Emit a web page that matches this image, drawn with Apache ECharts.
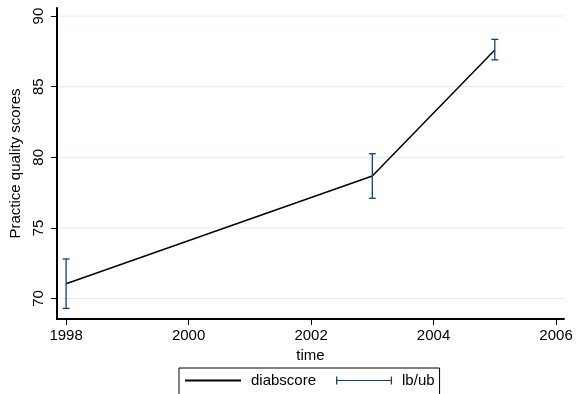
<!DOCTYPE html>
<html><head><meta charset="utf-8">
<script src="https://cdn.jsdelivr.net/npm/echarts@6/dist/echarts.min.js"></script>
<style>html,body{margin:0;padding:0;background:#fff}#c{width:584px;height:394px}</style>
</head><body><div id="c"></div>
<script>
const years = [1998, 2003, 2005];
const diabscore = [71.05, 78.67, 87.6];
const lowerBound = [69.3, 77.1, 86.9];
const upperBound = [72.8, 80.25, 88.35];
const xTicks = [1998, 2000, 2002, 2004, 2006];
const yTicks = [70, 75, 80, 85, 90];

const FONT = 'Liberation Sans';
const navy = '#1a3f73';
const chart = echarts.init(document.getElementById('c'), null, {renderer: 'canvas'});
const lineData = years.map((y, i) => [y, diabscore[i]]);
const errData = years.map((y, i) => [y, lowerBound[i], upperBound[i]]);
const fmt = v => String(v);

chart.setOption({
  animation: false,
  backgroundColor: '#fff',
  grid: {left: 55, right: 20, top: 8, bottom: 75, containLabel: false},
  xAxis: {
    type: 'value', min: 1997.85, max: 2006.13,
    name: 'time', nameLocation: 'middle', nameGap: 22,
    nameTextStyle: {fontFamily: FONT, fontSize: 15, color: '#000'},
    axisLine: {show: true, onZero: false, lineStyle: {color: '#000', width: 2}},
    axisTick: {show: true, length: 6, lineStyle: {color: '#000', width: 1}, customValues: xTicks},
    axisLabel: {fontFamily: FONT, fontSize: 15, color: '#000', margin: 9, customValues: xTicks, formatter: fmt},
    splitLine: {show: false}
  },
  yAxis: {
    type: 'value', min: 68.55, max: 90.57,
    name: 'Practice quality scores', nameLocation: 'middle', nameGap: 27, nameRotate: 90,
    nameTextStyle: {fontFamily: FONT, fontSize: 15, color: '#000'},
    axisLine: {show: true, onZero: false, lineStyle: {color: '#000', width: 2}},
    axisTick: {show: true, length: 6, lineStyle: {color: '#000', width: 1}, customValues: yTicks},
    axisLabel: {fontFamily: FONT, fontSize: 15, color: '#000', rotate: 90, margin: 11, customValues: yTicks, formatter: fmt},
    splitLine: {show: false}
  },
  legend: {
    left: 179, top: 368,
    borderColor: '#000', borderWidth: 1,
    padding: [5, 5, 8, 6],
    itemWidth: 56, itemHeight: 8, itemGap: 20,
    textStyle: {fontFamily: FONT, fontSize: 15, color: '#000', padding: [0, 0, 0, 5]},
    data: [
      {name: 'diabscore', icon: 'path://M0,0h56v0.01h-56z M0,3.1h56v1.8h-56z M0,7.99h56v0.01h-56z'},
      {name: 'lb/ub', icon: 'path://M0,0h1.3v8h-1.3z M1.3,3.4h53.4v1.2h-53.4z M54.7,0h1.3v8h-1.3z'}
    ]
  },
  series: [
    {
      type: 'custom', name: 'grid', data: yTicks.map(v => [v]), z: 0, silent: true,
      encode: {y: 0},
      renderItem: function (params, api) {
        const cs = params.coordSys;
        const p = api.coord([1997.85, api.value(0)]);
        return {type: 'line', shape: {x1: cs.x + 1, y1: p[1], x2: cs.x + cs.width, y2: p[1]},
          style: {stroke: '#e2ebee', lineWidth: 1}};
      }
    },
    {
      type: 'line', name: 'diabscore', data: lineData, showSymbol: false, symbol: 'none',
      lineStyle: {color: '#000', width: 1.5}, itemStyle: {color: '#000'}, z: 3
    },
    {
      type: 'custom', name: 'lb/ub', data: errData, z: 4,
      itemStyle: {color: navy},
      encode: {x: 0, y: [1, 2]},
      renderItem: function (params, api) {
        const x = api.value(0);
        const lo = api.coord([x, api.value(1)]);
        const hi = api.coord([x, api.value(2)]);
        const hw = 3.5;
        const st = {stroke: navy, lineWidth: 1.3};
        return {type: 'group', children: [
          {type: 'line', shape: {x1: lo[0], y1: lo[1], x2: hi[0], y2: hi[1]}, style: st},
          {type: 'line', shape: {x1: lo[0] - hw, y1: lo[1], x2: lo[0] + hw, y2: lo[1]}, style: st},
          {type: 'line', shape: {x1: hi[0] - hw, y1: hi[1], x2: hi[0] + hw, y2: hi[1]}, style: st}
        ]};
      }
    }
  ]
});
</script></body></html>
